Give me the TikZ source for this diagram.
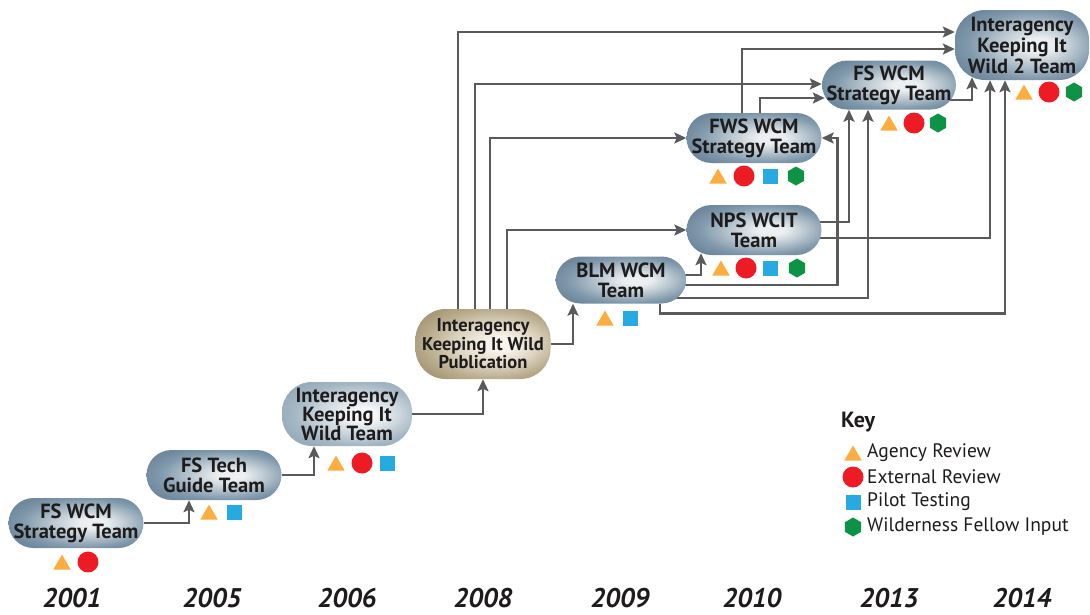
\documentclass[tikz,border=0pt]{standalone}
\usepackage{fontspec}
\setmainfont{PT Sans}
\usetikzlibrary{shapes.geometric,arrows.meta,backgrounds}

\definecolor{linkgray}{HTML}{5A5A5C}
\definecolor{textblack}{HTML}{1E1B1C}
\definecolor{teamlight}{HTML}{ECEFF1}
\definecolor{teammid}{HTML}{B4C2CC}
\definecolor{teamdark}{HTML}{7F98AB}
\definecolor{teamrim}{HTML}{6F889C}
\definecolor{palelight}{HTML}{F5F7F8}
\definecolor{palemid}{HTML}{CDD7DE}
\definecolor{paledark}{HTML}{A5B7C4}
\definecolor{palerim}{HTML}{97ABBA}
\definecolor{tanlight}{HTML}{F8F4EC}
\definecolor{tanmid}{HTML}{DDD4C1}
\definecolor{tandark}{HTML}{BBAF91}
\definecolor{tanrim}{HTML}{A89B7A}
\definecolor{agencyorange}{HTML}{FBAD3F}
\definecolor{externalred}{HTML}{ED1C24}
\definecolor{pilotblue}{HTML}{27AAE1}
\definecolor{fellowgreen}{HTML}{0E9246}

\pgfdeclareradialshading{teamglow}{\pgfpoint{7bp}{0bp}}{color(0bp)=(teamlight); color(5bp)=(teamlight); color(15bp)=(teammid); color(24bp)=(teamdark); color(30bp)=(teamrim); color(50bp)=(teamrim)}
\pgfdeclareradialshading{paleglow}{\pgfpoint{7bp}{0bp}}{color(0bp)=(palelight); color(5bp)=(palelight); color(15bp)=(palemid); color(24bp)=(paledark); color(30bp)=(palerim); color(50bp)=(palerim)}
\pgfdeclareradialshading{tanglow}{\pgfpoint{7bp}{0bp}}{color(0bp)=(tanlight); color(5bp)=(tanlight); color(15bp)=(tanmid); color(24bp)=(tandark); color(30bp)=(tanrim); color(50bp)=(tanrim)}

\newcommand\teamfont{\bfseries\fontsize{20.5}{20}\selectfont}
\newcommand\yearfont{\bfseries\itshape\fontsize{27}{30}\selectfont}
\newcommand\keyfont{\fontsize{19.5}{21}\selectfont}

\begin{document}
\begin{tikzpicture}[%
    x=1pt,
    y=-1pt,
    >={Stealth[length=12pt,width=11pt,inset=2.5pt]},
    link/.style={%
      ->,
      draw=linkgray,
      line width=2.8pt
    },
    team/.style={%
      rectangle,
      rounded corners=25pt,
      shading=teamglow,
      minimum width=135pt,
      minimum height=50pt,
      inner sep=0pt,
      align=center,
      text=textblack,
      font=\teamfont
    },
    tall/.style={rounded corners=30pt},
    year/.style={font=\yearfont, text=textblack, inner sep=0pt},
    keylabel/.style={anchor=west, font=\keyfont, text=textblack, inner sep=0pt},
    agencymark/.style={regular polygon, regular polygon sides=3, fill=agencyorange,
      minimum size=20pt, inner sep=0pt, yshift=-2.5pt},
    extmark/.style={circle, fill=externalred, minimum size=21pt, inner sep=0pt},
    pilotmark/.style={rectangle, fill=pilotblue, minimum size=15pt, inner sep=0pt},
    fellowmark/.style={regular polygon, regular polygon sides=6, shape border rotate=30,
      fill=fellowgreen, minimum size=19pt, inner sep=0pt}
  ]
    \useasboundingbox (0,0) rectangle (1090,614);

    % teams
    \node[team] (fsA)  at (76,523)   {FS WCM\\Strategy Team};
    \node[team] (tech) at (214,475)  {FS Tech\\Guide Team};
    \node[team, tall, shading=paleglow, minimum width=130pt, minimum height=64pt,
      font=\bfseries\fontsize{20.5}{19}\selectfont] (ikwA) at (347,414)
      {Interagency\\Keeping It\\Wild Team};
    \node[team, tall, shading=tanglow, minimum height=70pt,
      font=\bfseries\fontsize{18.5}{18.5}\selectfont] (pub) at (483,344)
      {Interagency\\Keeping It Wild\\Publication};
    \node[team, minimum width=131pt, minimum height=47pt] (blm) at (621,280) {BLM WCM\\Team};
    \node[team] (nps)  at (754,230)  {NPS WCIT\\Team};
    \node[team] (fws)  at (754,138)  {FWS WCM\\Strategy Team};
    \node[team, minimum width=134pt, minimum height=49pt] (fsB) at (889,85) {FS WCM\\Strategy Team};
    \node[team, tall, minimum width=134pt, minimum height=70pt,
      font=\bfseries\fontsize{20.5}{21}\selectfont] (ikwB) at (1022,45)
      {Interagency\\Keeping It\\Wild 2 Team};

    % review marks
    \node[agencymark] (fsA-a) at (62,562) {};
    \node[extmark]    (fsA-e) at (88,562) {};
    \node[agencymark] (tech-a) at (209,512) {};
    \node[pilotmark]  (tech-p) at (234,512) {};
    \node[agencymark] (ikwA-a) at (336,463) {};
    \node[extmark]    (ikwA-e) at (362,463) {};
    \node[pilotmark]  (ikwA-p) at (387,463) {};
    \node[agencymark] (blm-a) at (605,318) {};
    \node[pilotmark]  (blm-p) at (630,318) {};
    \node[agencymark] (nps-a) at (721,268) {};
    \node[extmark]    (nps-e) at (746,268) {};
    \node[pilotmark]  (nps-p) at (770,268) {};
    \node[fellowmark] (nps-f) at (797,268) {};
    \node[agencymark] (fws-a) at (718,176) {};
    \node[extmark]    (fws-e) at (744,176) {};
    \node[pilotmark]  (fws-p) at (770,176) {};
    \node[fellowmark] (fws-f) at (796,176) {};
    \node[agencymark] (fsB-a) at (889,123) {};
    \node[extmark]    (fsB-e) at (914,123) {};
    \node[fellowmark] (fsB-f) at (938,123) {};
    \node[agencymark] (ikwB-a) at (1024,92) {};
    \node[extmark]    (ikwB-e) at (1049,92) {};
    \node[fellowmark] (ikwB-f) at (1074,92) {};

    % years
    \node[year] (y2001) at (72,598)   {2001};
    \node[year] (y2005) at (212,598)  {2005};
    \node[year] (y2006) at (347,598)  {2006};
    \node[year] (y2008) at (483,598)  {2008};
    \node[year] (y2009) at (620,598)  {2009};
    \node[year] (y2010) at (752,598)  {2010};
    \node[year] (y2013) at (889,598)  {2013};
    \node[year] (y2014) at (1022,598) {2014};

    % key
    \node[keylabel, font=\bfseries\fontsize{22}{24}\selectfont] (key) at (841,422) {Key};
    \node[agencymark] (key-a) at (853,453) {};
    \node[extmark]    (key-e) at (853,477) {};
    \node[pilotmark]  (key-p) at (853,502) {};
    \node[fellowmark] (key-f) at (853,527) {};
    \node[keylabel] (key-at) at (867,453) {Agency Review};
    \node[keylabel] (key-et) at (867,477) {External Review};
    \node[keylabel] (key-pt) at (867,502) {Pilot Testing};
    \node[keylabel] (key-ft) at (867,527) {Wilderness Fellow Input};

    \begin{scope}[on background layer]
      \draw[link] (fsA.east) -| ([xshift=-25pt]tech.south);
      \draw[link] (tech.east) -| ([xshift=-33pt]ikwA.south);
      \draw[link] (ikwA.east) -| (pub.south);
      \draw[link] (pub.east) -| ([xshift=-48pt]blm.south);
      \draw[link] ([xshift=-25pt]pub.north) |- ([yshift=13pt]ikwB.west);
      \draw[link] ([xshift=-8pt]pub.north) |- ([yshift=1pt]fsB.west);
      \draw[link] ([xshift=7pt]pub.north) |- (fws.west);
      \draw[link] ([xshift=24pt]pub.north) |- (nps.west);
      \draw[link] ([xshift=-12pt]fws.north) |- ([yshift=-4pt]ikwB.west);
      \draw[link] ([xshift=6pt]fws.north) |- ([xshift=3pt,yshift=-13pt]fsB.west);
      \draw[link] ([xshift=-8pt,yshift=-15pt]fsB.east) -| ([xshift=-50pt,yshift=3pt]ikwB.south);
      \draw[link] ([xshift=-3pt,yshift=8pt]nps.east) -| ([xshift=-40pt]fsB.south);
      \draw[link] ([xshift=-3pt,yshift=-8pt]nps.east) -| ([xshift=-32pt]ikwB.south);
      \draw[link] ([xshift=-3pt,yshift=5pt]blm.east) -| ([xshift=-53pt,yshift=2pt]nps.south);
      \draw[link] ([xshift=-3pt,yshift=-5pt]blm.east) -| ([xshift=16pt]fws.east) -- (fws.east);
      \draw[link] ([xshift=-12pt,yshift=-18pt]blm.east) -| ([xshift=-21pt]fsB.south);
      \draw[link] ([xshift=39pt]blm.south) -- ++(0,10) -| ([xshift=-17pt]ikwB.south);
    \end{scope}
  \end{tikzpicture}
\end{document}
